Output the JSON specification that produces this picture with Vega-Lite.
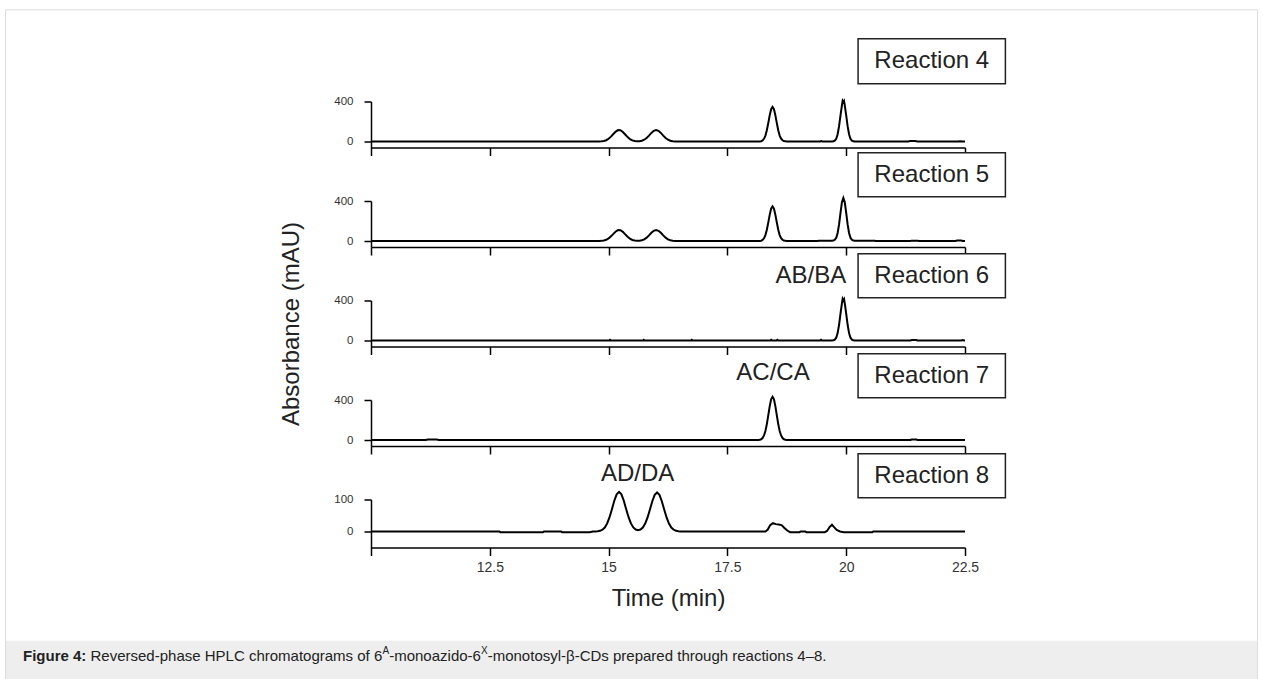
{
  "$schema": "https://vega.github.io/schema/vega-lite/v6.json",
  "background": "white",
  "padding": {"left": 5, "top": 8.5, "right": 5, "bottom": 0},
  "bounds": "flush",
  "spacing": 53.5,
  "config": {
    "view": {"stroke": null},
    "axis": {"grid": false},
    "font": "Liberation Sans"
  },
  "datasets": {
    "p4": [
      {"t": 10, "a": 2}, {"t": 14.75, "a": 2}, {"t": 14.8, "a": 2.6}, {"t": 14.85, "a": 4}, {"t": 14.9, "a": 7.5}, {"t": 14.95, "a": 15.3},
      {"t": 15.0, "a": 29.5}, {"t": 15.05, "a": 50.9}, {"t": 15.1, "a": 77.1}, {"t": 15.15, "a": 101.5}, {"t": 15.2, "a": 115.6},
      {"t": 15.25, "a": 114}, {"t": 15.3, "a": 97.2}, {"t": 15.35, "a": 71.8}, {"t": 15.4, "a": 46.1}, {"t": 15.45, "a": 26},
      {"t": 15.5, "a": 13.3}, {"t": 15.55, "a": 6.9}, {"t": 15.6, "a": 4.6}, {"t": 15.65, "a": 5.6}, {"t": 15.7, "a": 10},
      {"t": 15.75, "a": 20.1}, {"t": 15.8, "a": 37.2}, {"t": 15.85, "a": 61.1}, {"t": 15.9, "a": 87.5}, {"t": 15.95, "a": 108.8},
      {"t": 16.0, "a": 117}, {"t": 16.05, "a": 108.8}, {"t": 16.1, "a": 87.5}, {"t": 16.15, "a": 61.1}, {"t": 16.2, "a": 37.2},
      {"t": 16.25, "a": 20.1}, {"t": 16.3, "a": 10}, {"t": 16.35, "a": 5.1}, {"t": 16.4, "a": 3}, {"t": 16.45, "a": 2.3}, {"t": 16.5, "a": 2},
      {"t": 18.15, "a": 2}, {"t": 18.18, "a": 3.2}, {"t": 18.21, "a": 5.8}, {"t": 18.24, "a": 13}, {"t": 18.27, "a": 29.5},
      {"t": 18.3, "a": 61.5}, {"t": 18.33, "a": 114}, {"t": 18.36, "a": 185}, {"t": 18.39, "a": 262}, {"t": 18.42, "a": 323.5},
      {"t": 18.45, "a": 347}, {"t": 18.48, "a": 323.5}, {"t": 18.51, "a": 262}, {"t": 18.54, "a": 185}, {"t": 18.57, "a": 114},
      {"t": 18.6, "a": 61.5}, {"t": 18.63, "a": 31}, {"t": 18.66, "a": 15}, {"t": 18.69, "a": 7}, {"t": 18.72, "a": 4}, {"t": 18.75, "a": 2.5},
      {"t": 18.8, "a": 2}, {"t": 19.45, "a": 2}, {"t": 19.48, "a": 7}, {"t": 19.5, "a": 2},
      {"t": 19.7, "a": 2.4}, {"t": 19.73, "a": 4.2}, {"t": 19.76, "a": 10.7}, {"t": 19.79, "a": 29.9}, {"t": 19.82, "a": 74.8},
      {"t": 19.85, "a": 155}, {"t": 19.88, "a": 263}, {"t": 19.91, "a": 362}, {"t": 19.925, "a": 407}, {"t": 19.94, "a": 394},
      {"t": 19.955, "a": 405}, {"t": 19.97, "a": 362}, {"t": 20.0, "a": 263}, {"t": 20.03, "a": 155}, {"t": 20.06, "a": 74.8},
      {"t": 20.09, "a": 29.9}, {"t": 20.12, "a": 10.7}, {"t": 20.15, "a": 4.2}, {"t": 20.18, "a": 2.4}, {"t": 20.22, "a": 2},
      {"t": 21.3, "a": 2}, {"t": 21.35, "a": 7}, {"t": 21.45, "a": 7}, {"t": 21.5, "a": 2},
      {"t": 22.35, "a": 2}, {"t": 22.4, "a": 6}, {"t": 22.45, "a": 2}, {"t": 22.5, "a": 2}
    ],
    "p5": [
      {"t": 10, "a": 2}, {"t": 14.75, "a": 2}, {"t": 14.8, "a": 2.6}, {"t": 14.85, "a": 3.9}, {"t": 14.9, "a": 7.3}, {"t": 14.95, "a": 14.7},
      {"t": 15.0, "a": 28.3}, {"t": 15.05, "a": 48.8}, {"t": 15.1, "a": 73.8}, {"t": 15.15, "a": 97.2}, {"t": 15.2, "a": 110.7},
      {"t": 15.25, "a": 109.1}, {"t": 15.3, "a": 93.1}, {"t": 15.35, "a": 68.8}, {"t": 15.4, "a": 44.2}, {"t": 15.45, "a": 25},
      {"t": 15.5, "a": 12.8}, {"t": 15.55, "a": 6.7}, {"t": 15.6, "a": 4.5}, {"t": 15.65, "a": 5.4}, {"t": 15.7, "a": 9.7},
      {"t": 15.75, "a": 19.3}, {"t": 15.8, "a": 35.7}, {"t": 15.85, "a": 58.5}, {"t": 15.9, "a": 83.8}, {"t": 15.95, "a": 104.2},
      {"t": 16.0, "a": 112}, {"t": 16.05, "a": 104.2}, {"t": 16.1, "a": 83.8}, {"t": 16.15, "a": 58.5}, {"t": 16.2, "a": 35.7},
      {"t": 16.25, "a": 19.3}, {"t": 16.3, "a": 9.7}, {"t": 16.35, "a": 5}, {"t": 16.4, "a": 3}, {"t": 16.45, "a": 2.3}, {"t": 16.5, "a": 2},
      {"t": 18.15, "a": 2}, {"t": 18.18, "a": 3.2}, {"t": 18.21, "a": 5.8}, {"t": 18.24, "a": 13}, {"t": 18.27, "a": 29.5},
      {"t": 18.3, "a": 61.5}, {"t": 18.33, "a": 114}, {"t": 18.36, "a": 185}, {"t": 18.39, "a": 262}, {"t": 18.42, "a": 323.5},
      {"t": 18.45, "a": 347}, {"t": 18.48, "a": 323.5}, {"t": 18.51, "a": 262}, {"t": 18.54, "a": 185}, {"t": 18.57, "a": 114},
      {"t": 18.6, "a": 61.5}, {"t": 18.63, "a": 31}, {"t": 18.66, "a": 15}, {"t": 18.69, "a": 7}, {"t": 18.72, "a": 4}, {"t": 18.75, "a": 2.5},
      {"t": 18.8, "a": 2}, {"t": 19.4, "a": 2}, {"t": 19.42, "a": 5},
      {"t": 19.7, "a": 5.4}, {"t": 19.73, "a": 7.3}, {"t": 19.76, "a": 14.2}, {"t": 19.79, "a": 34.6}, {"t": 19.82, "a": 82.4},
      {"t": 19.85, "a": 167.6}, {"t": 19.88, "a": 282.3}, {"t": 19.91, "a": 387.5}, {"t": 19.94, "a": 430},
      {"t": 19.97, "a": 387.5}, {"t": 20.0, "a": 282.3}, {"t": 20.03, "a": 167.6}, {"t": 20.06, "a": 82.4}, {"t": 20.09, "a": 34.6},
      {"t": 20.12, "a": 14.2}, {"t": 20.15, "a": 7.3}, {"t": 20.18, "a": 5.4}, {"t": 20.6, "a": 5}, {"t": 20.62, "a": 2},
      {"t": 21.35, "a": 2}, {"t": 21.38, "a": 6}, {"t": 21.5, "a": 6}, {"t": 21.53, "a": 2},
      {"t": 22.3, "a": 2}, {"t": 22.33, "a": 7}, {"t": 22.42, "a": 7}, {"t": 22.45, "a": 2}, {"t": 22.5, "a": 2}
    ],
    "p6": [
      {"t": 10, "a": 2}, {"t": 15.01, "a": 2}, {"t": 15.03, "a": 10}, {"t": 15.05, "a": 2},
      {"t": 15.72, "a": 2}, {"t": 15.74, "a": 9}, {"t": 15.76, "a": 2},
      {"t": 16.73, "a": 2}, {"t": 16.75, "a": 10}, {"t": 16.77, "a": 2},
      {"t": 18.4, "a": 2}, {"t": 18.42, "a": 9}, {"t": 18.44, "a": 2},
      {"t": 18.53, "a": 2}, {"t": 18.55, "a": 9}, {"t": 18.57, "a": 2},
      {"t": 19.45, "a": 2}, {"t": 19.47, "a": 10}, {"t": 19.49, "a": 2},
      {"t": 19.7, "a": 2.4}, {"t": 19.73, "a": 4.3}, {"t": 19.76, "a": 10.9}, {"t": 19.79, "a": 30.6}, {"t": 19.82, "a": 76.6},
      {"t": 19.85, "a": 159}, {"t": 19.88, "a": 270}, {"t": 19.91, "a": 371}, {"t": 19.925, "a": 417}, {"t": 19.94, "a": 402},
      {"t": 19.955, "a": 414}, {"t": 19.97, "a": 371}, {"t": 20.0, "a": 270}, {"t": 20.03, "a": 159}, {"t": 20.06, "a": 76.6},
      {"t": 20.09, "a": 30.6}, {"t": 20.12, "a": 10.9}, {"t": 20.15, "a": 4.3}, {"t": 20.18, "a": 2.4}, {"t": 20.22, "a": 2},
      {"t": 21.35, "a": 2}, {"t": 21.38, "a": 7}, {"t": 21.48, "a": 7}, {"t": 21.5, "a": 2},
      {"t": 22.42, "a": 2}, {"t": 22.45, "a": 7}, {"t": 22.48, "a": 2}, {"t": 22.5, "a": 2}
    ],
    "p7": [
      {"t": 10, "a": 2}, {"t": 11.15, "a": 2}, {"t": 11.2, "a": 7}, {"t": 11.38, "a": 7}, {"t": 11.43, "a": 2},
      {"t": 18.15, "a": 2}, {"t": 18.18, "a": 4.8}, {"t": 18.21, "a": 10}, {"t": 18.24, "a": 22.3}, {"t": 18.27, "a": 47.7},
      {"t": 18.3, "a": 92.6}, {"t": 18.33, "a": 160.7}, {"t": 18.36, "a": 247.5}, {"t": 18.39, "a": 337.3}, {"t": 18.42, "a": 406},
      {"t": 18.45, "a": 432}, {"t": 18.48, "a": 406}, {"t": 18.51, "a": 337.3}, {"t": 18.54, "a": 247.5}, {"t": 18.57, "a": 160.7},
      {"t": 18.6, "a": 92.6}, {"t": 18.63, "a": 47.7}, {"t": 18.66, "a": 22.3}, {"t": 18.69, "a": 10}, {"t": 18.72, "a": 4.8},
      {"t": 18.75, "a": 2.8}, {"t": 18.8, "a": 2},
      {"t": 21.35, "a": 2}, {"t": 21.38, "a": 7}, {"t": 21.48, "a": 7}, {"t": 21.5, "a": 2}, {"t": 22.5, "a": 2}
    ],
    "p8": [
      {"t": 10, "a": 0}, {"t": 12.7, "a": 0}, {"t": 12.72, "a": -2}, {"t": 13.62, "a": -2}, {"t": 13.64, "a": 0},
      {"t": 14.0, "a": 0}, {"t": 14.02, "a": -2}, {"t": 14.6, "a": -2}, {"t": 14.67, "a": 0},
      {"t": 14.72, "a": 0.2}, {"t": 14.77, "a": 0.7}, {"t": 14.82, "a": 2.1}, {"t": 14.87, "a": 5.4}, {"t": 14.92, "a": 12.5},
      {"t": 14.97, "a": 25.2}, {"t": 15.02, "a": 44.6}, {"t": 15.07, "a": 69.8}, {"t": 15.12, "a": 96.1}, {"t": 15.17, "a": 116.3},
      {"t": 15.22, "a": 124}, {"t": 15.27, "a": 116.3}, {"t": 15.32, "a": 96.1}, {"t": 15.37, "a": 69.8}, {"t": 15.42, "a": 44.6},
      {"t": 15.47, "a": 25.2}, {"t": 15.52, "a": 12.7}, {"t": 15.57, "a": 6.1}, {"t": 15.62, "a": 4.2}, {"t": 15.67, "a": 6.1},
      {"t": 15.72, "a": 12.5}, {"t": 15.77, "a": 24.8}, {"t": 15.82, "a": 43.9}, {"t": 15.87, "a": 68.7}, {"t": 15.92, "a": 94.6},
      {"t": 15.97, "a": 114.4}, {"t": 16.02, "a": 122}, {"t": 16.07, "a": 114.4}, {"t": 16.12, "a": 94.6}, {"t": 16.17, "a": 68.7},
      {"t": 16.22, "a": 43.9}, {"t": 16.27, "a": 24.8}, {"t": 16.32, "a": 12.3}, {"t": 16.37, "a": 5.4}, {"t": 16.42, "a": 2.1},
      {"t": 16.47, "a": 0.7}, {"t": 16.52, "a": 0.2}, {"t": 16.57, "a": 0},
      {"t": 18.3, "a": 0}, {"t": 18.35, "a": 6}, {"t": 18.4, "a": 20}, {"t": 18.46, "a": 26}, {"t": 18.52, "a": 23},
      {"t": 18.58, "a": 22}, {"t": 18.64, "a": 20}, {"t": 18.7, "a": 11}, {"t": 18.76, "a": 3}, {"t": 18.82, "a": -2},
      {"t": 19.02, "a": -2}, {"t": 19.04, "a": 0}, {"t": 19.14, "a": 0}, {"t": 19.16, "a": -2}, {"t": 19.55, "a": -2},
      {"t": 19.6, "a": 2}, {"t": 19.65, "a": 14}, {"t": 19.7, "a": 21}, {"t": 19.75, "a": 13}, {"t": 19.8, "a": 5},
      {"t": 19.87, "a": 0}, {"t": 19.95, "a": -2}, {"t": 20.55, "a": -2}, {"t": 20.57, "a": 0}, {"t": 22.5, "a": 0}
    ]
  },
  "vconcat": [
    {
      "width": 594, "height": 46,
      "layer": [
        {
          "data": {"values": [{"s": "figure frame"}]},
          "mark": {"type": "rect", "fill": null, "stroke": "#dddddd", "strokeWidth": 1, "x": -365.5, "x2": 886.5, "y": -91.7, "y2": 578.3},
          "encoding": {}
        },
        {
          "data": {"name": "p4"},
          "mark": {"type": "line", "color": "black", "strokeWidth": 2},
          "encoding": {
            "x": {"field": "t", "type": "quantitative", "scale": {"domain": [10, 22.5], "nice": false, "zero": false},
              "axis": {"values": [10, 12.5, 15, 17.5, 20, 22.5], "labels": false, "title": null, "tickSize": 8, "tickWidth": 1.5, "tickColor": "black", "domainColor": "black", "domainWidth": 1.5}},
            "y": {"field": "a", "type": "quantitative", "scale": {"domain": [-57, 400], "nice": false, "zero": false},
              "axis": {"values": [0, 100, 200, 300, 400], "labelExpr": "datum.value % 200 === 0 ? datum.label : ''", "title": null, "tickSize": 7, "tickWidth": 1.5, "tickColor": "black", "domainColor": "black", "domainWidth": 1.5, "labelFont": "Liberation Sans", "labelFontSize": 11.5, "labelColor": "#333", "labelPadding": 11}}
          }
        },
        {
          "data": {"values": [{"label": "Reaction 4"}]},
          "mark": {"type": "rect", "fill": "white", "stroke": "#222", "strokeWidth": 1.5},
          "encoding": {
            "x": {"datum": 20.25, "type": "quantitative", "scale": {"domain": [10, 22.5], "nice": false, "zero": false}},
            "x2": {"datum": 23.35},
            "y": {"datum": 1023, "type": "quantitative", "scale": {"domain": [-57, 400], "nice": false, "zero": false}},
            "y2": {"datum": 576}
          }
        },
        {
          "data": {"values": [{"label": "Reaction 4"}]},
          "mark": {"type": "text", "font": "Liberation Sans", "fontSize": 24, "color": "#222", "align": "center", "baseline": "middle"},
          "encoding": {
            "x": {"datum": 21.8, "type": "quantitative", "scale": {"domain": [10, 22.5], "nice": false, "zero": false}},
            "y": {"datum": 799, "type": "quantitative", "scale": {"domain": [-57, 400], "nice": false, "zero": false}},
            "text": {"field": "label"}
          }
        }
      ]
    },
    {
      "width": 594, "height": 46,
      "layer": [
        {
          "data": {"name": "p5"},
          "mark": {"type": "line", "color": "black", "strokeWidth": 2},
          "encoding": {
            "x": {"field": "t", "type": "quantitative", "scale": {"domain": [10, 22.5], "nice": false, "zero": false},
              "axis": {"values": [10, 12.5, 15, 17.5, 20, 22.5], "labels": false, "title": null, "tickSize": 8, "tickWidth": 1.5, "tickColor": "black", "domainColor": "black", "domainWidth": 1.5}},
            "y": {"field": "a", "type": "quantitative", "scale": {"domain": [-57, 400], "nice": false, "zero": false},
              "axis": {"values": [0, 100, 200, 300, 400], "labelExpr": "datum.value % 200 === 0 ? datum.label : ''", "title": null, "tickSize": 7, "tickWidth": 1.5, "tickColor": "black", "domainColor": "black", "domainWidth": 1.5, "labelFont": "Liberation Sans", "labelFontSize": 11.5, "labelColor": "#333", "labelPadding": 11}}
          }
        },
        {
          "data": {"values": [{"label": "Reaction 5"}]},
          "mark": {"type": "rect", "fill": "white", "stroke": "#222", "strokeWidth": 1.5},
          "encoding": {
            "x": {"datum": 20.25, "type": "quantitative", "scale": {"domain": [10, 22.5], "nice": false, "zero": false}},
            "x2": {"datum": 23.35},
            "y": {"datum": 879, "type": "quantitative", "scale": {"domain": [-57, 400], "nice": false, "zero": false}},
            "y2": {"datum": 442}
          }
        },
        {
          "data": {"values": [{"label": "Reaction 5"}]},
          "mark": {"type": "text", "font": "Liberation Sans", "fontSize": 24, "color": "#222", "align": "center", "baseline": "middle"},
          "encoding": {
            "x": {"datum": 21.8, "type": "quantitative", "scale": {"domain": [10, 22.5], "nice": false, "zero": false}},
            "y": {"datum": 660, "type": "quantitative", "scale": {"domain": [-57, 400], "nice": false, "zero": false}},
            "text": {"field": "label"}
          }
        }
      ]
    },
    {
      "width": 594, "height": 46,
      "layer": [
        {
          "data": {"name": "p6"},
          "mark": {"type": "line", "color": "black", "strokeWidth": 2},
          "encoding": {
            "x": {"field": "t", "type": "quantitative", "scale": {"domain": [10, 22.5], "nice": false, "zero": false},
              "axis": {"values": [10, 12.5, 15, 17.5, 20, 22.5], "labels": false, "title": null, "tickSize": 8, "tickWidth": 1.5, "tickColor": "black", "domainColor": "black", "domainWidth": 1.5}},
            "y": {"field": "a", "type": "quantitative", "scale": {"domain": [-57, 400], "nice": false, "zero": false},
              "axis": {"values": [0, 100, 200, 300, 400], "labelExpr": "datum.value % 200 === 0 ? datum.label : ''", "title": "Absorbance (mAU)", "titleFont": "Liberation Sans", "titleFontSize": 24, "titleFontWeight": "normal", "titleColor": "#222", "titlePadding": 30, "tickSize": 7, "tickWidth": 1.5, "tickColor": "black", "domainColor": "black", "domainWidth": 1.5, "labelFont": "Liberation Sans", "labelFontSize": 11.5, "labelColor": "#333", "labelPadding": 11}}
          }
        },
        {
          "data": {"values": [{"label": "Reaction 6"}]},
          "mark": {"type": "rect", "fill": "white", "stroke": "#222", "strokeWidth": 1.5},
          "encoding": {
            "x": {"datum": 20.25, "type": "quantitative", "scale": {"domain": [10, 22.5], "nice": false, "zero": false}},
            "x2": {"datum": 23.35},
            "y": {"datum": 864, "type": "quantitative", "scale": {"domain": [-57, 400], "nice": false, "zero": false}},
            "y2": {"datum": 427}
          }
        },
        {
          "data": {"values": [{"label": "Reaction 6"}]},
          "mark": {"type": "text", "font": "Liberation Sans", "fontSize": 24, "color": "#222", "align": "center", "baseline": "middle"},
          "encoding": {
            "x": {"datum": 21.8, "type": "quantitative", "scale": {"domain": [10, 22.5], "nice": false, "zero": false}},
            "y": {"datum": 645, "type": "quantitative", "scale": {"domain": [-57, 400], "nice": false, "zero": false}},
            "text": {"field": "label"}
          }
        },
        {
          "data": {"values": [{"label": "AB/BA"}]},
          "mark": {"type": "text", "font": "Liberation Sans", "fontSize": 24, "color": "#222", "align": "right", "baseline": "middle"},
          "encoding": {
            "x": {"datum": 20.0, "type": "quantitative", "scale": {"domain": [10, 22.5], "nice": false, "zero": false}},
            "y": {"datum": 645, "type": "quantitative", "scale": {"domain": [-57, 400], "nice": false, "zero": false}},
            "text": {"field": "label"}
          }
        }
      ]
    },
    {
      "width": 594, "height": 46,
      "layer": [
        {
          "data": {"name": "p7"},
          "mark": {"type": "line", "color": "black", "strokeWidth": 2},
          "encoding": {
            "x": {"field": "t", "type": "quantitative", "scale": {"domain": [10, 22.5], "nice": false, "zero": false},
              "axis": {"values": [10, 12.5, 15, 17.5, 20, 22.5], "labels": false, "title": null, "tickSize": 8, "tickWidth": 1.5, "tickColor": "black", "domainColor": "black", "domainWidth": 1.5}},
            "y": {"field": "a", "type": "quantitative", "scale": {"domain": [-57, 400], "nice": false, "zero": false},
              "axis": {"values": [0, 100, 200, 300, 400], "labelExpr": "datum.value % 200 === 0 ? datum.label : ''", "title": null, "tickSize": 7, "tickWidth": 1.5, "tickColor": "black", "domainColor": "black", "domainWidth": 1.5, "labelFont": "Liberation Sans", "labelFontSize": 11.5, "labelColor": "#333", "labelPadding": 11}}
          }
        },
        {
          "data": {"values": [{"label": "Reaction 7"}]},
          "mark": {"type": "rect", "fill": "white", "stroke": "#222", "strokeWidth": 1.5},
          "encoding": {
            "x": {"datum": 20.25, "type": "quantitative", "scale": {"domain": [10, 22.5], "nice": false, "zero": false}},
            "x2": {"datum": 23.35},
            "y": {"datum": 859, "type": "quantitative", "scale": {"domain": [-57, 400], "nice": false, "zero": false}},
            "y2": {"datum": 422}
          }
        },
        {
          "data": {"values": [{"label": "Reaction 7"}]},
          "mark": {"type": "text", "font": "Liberation Sans", "fontSize": 24, "color": "#222", "align": "center", "baseline": "middle"},
          "encoding": {
            "x": {"datum": 21.8, "type": "quantitative", "scale": {"domain": [10, 22.5], "nice": false, "zero": false}},
            "y": {"datum": 640, "type": "quantitative", "scale": {"domain": [-57, 400], "nice": false, "zero": false}},
            "text": {"field": "label"}
          }
        },
        {
          "data": {"values": [{"label": "AC/CA"}]},
          "mark": {"type": "text", "font": "Liberation Sans", "fontSize": 24, "color": "#222", "align": "center", "baseline": "middle"},
          "encoding": {
            "x": {"datum": 18.46, "type": "quantitative", "scale": {"domain": [10, 22.5], "nice": false, "zero": false}},
            "y": {"datum": 670, "type": "quantitative", "scale": {"domain": [-57, 400], "nice": false, "zero": false}},
            "text": {"field": "label"}
          }
        }
      ]
    },
    {
      "width": 594, "height": 48,
      "layer": [
        {
          "data": {"name": "p8"},
          "mark": {"type": "line", "color": "black", "strokeWidth": 2},
          "encoding": {
            "x": {"field": "t", "type": "quantitative", "scale": {"domain": [10, 22.5], "nice": false, "zero": false},
              "axis": {"values": [10, 12.5, 15, 17.5, 20, 22.5], "labelExpr": "datum.value === 10 ? '' : format(datum.value, '~f')", "labelFlush": false, "labelFont": "Liberation Sans", "labelFontSize": 14, "labelColor": "#333", "labelPadding": 5, "labelDx": 4, "title": "Time (min)", "titleFont": "Liberation Sans", "titleFontSize": 24, "titleFontWeight": "normal", "titleColor": "#222", "titlePadding": 12, "tickSize": 8, "tickWidth": 1.5, "tickColor": "black", "domainColor": "black", "domainWidth": 1.5}},
            "y": {"field": "a", "type": "quantitative", "scale": {"domain": [-50, 100], "nice": false, "zero": false},
              "axis": {"values": [0, 50, 100], "labelExpr": "datum.value % 100 === 0 ? datum.label : ''", "title": null, "tickSize": 7, "tickWidth": 1.5, "tickColor": "black", "domainColor": "black", "domainWidth": 1.5, "labelFont": "Liberation Sans", "labelFontSize": 11.5, "labelColor": "#333", "labelPadding": 11}}
          }
        },
        {
          "data": {"values": [{"label": "Reaction 8"}]},
          "mark": {"type": "rect", "fill": "white", "stroke": "#222", "strokeWidth": 1.5},
          "encoding": {
            "x": {"datum": 20.25, "type": "quantitative", "scale": {"domain": [10, 22.5], "nice": false, "zero": false}},
            "x2": {"datum": 23.35},
            "y": {"datum": 242.8, "type": "quantitative", "scale": {"domain": [-50, 100], "nice": false, "zero": false}},
            "y2": {"datum": 105.3}
          }
        },
        {
          "data": {"values": [{"label": "Reaction 8"}]},
          "mark": {"type": "text", "font": "Liberation Sans", "fontSize": 24, "color": "#222", "align": "center", "baseline": "middle"},
          "encoding": {
            "x": {"datum": 21.8, "type": "quantitative", "scale": {"domain": [10, 22.5], "nice": false, "zero": false}},
            "y": {"datum": 174, "type": "quantitative", "scale": {"domain": [-50, 100], "nice": false, "zero": false}},
            "text": {"field": "label"}
          }
        },
        {
          "data": {"values": [{"label": "AD/DA"}]},
          "mark": {"type": "text", "font": "Liberation Sans", "fontSize": 24, "color": "#222", "align": "center", "baseline": "middle"},
          "encoding": {
            "x": {"datum": 15.61, "type": "quantitative", "scale": {"domain": [10, 22.5], "nice": false, "zero": false}},
            "y": {"datum": 180.3, "type": "quantitative", "scale": {"domain": [-50, 100], "nice": false, "zero": false}},
            "text": {"field": "label"}
          }
        },
        {"data": {"values": [{"s": "caption band"}]}, "mark": {"type": "rect", "fill": "#eeeeee", "x": -365, "x2": 886, "y": 141.3, "y2": 180.3}, "encoding": {}},
        {"data": {"values": [{"s": "Figure 4:"}]}, "mark": {"type": "text", "align": "left", "baseline": "middle", "font": "Liberation Sans", "fontSize": 15, "fontWeight": "bold", "color": "#222", "x": -348, "y": 156.3}, "encoding": {"text": {"field": "s"}}},
        {"data": {"values": [{"s": "Reversed-phase HPLC chromatograms of 6"}]}, "mark": {"type": "text", "align": "left", "baseline": "middle", "font": "Liberation Sans", "fontSize": 15, "color": "#222", "x": -348, "y": 156.3, "dx": 67.5}, "encoding": {"text": {"field": "s"}}},
        {"data": {"values": [{"s": "A"}]}, "mark": {"type": "text", "align": "left", "baseline": "middle", "font": "Liberation Sans", "fontSize": 10, "color": "#222", "x": -348, "y": 156.3, "dx": 359.5, "dy": -5}, "encoding": {"text": {"field": "s"}}},
        {"data": {"values": [{"s": "-monoazido-6"}]}, "mark": {"type": "text", "align": "left", "baseline": "middle", "font": "Liberation Sans", "fontSize": 15, "color": "#222", "x": -348, "y": 156.3, "dx": 366.2}, "encoding": {"text": {"field": "s"}}},
        {"data": {"values": [{"s": "X"}]}, "mark": {"type": "text", "align": "left", "baseline": "middle", "font": "Liberation Sans", "fontSize": 10, "color": "#222", "x": -348, "y": 156.3, "dx": 458, "dy": -5}, "encoding": {"text": {"field": "s"}}},
        {"data": {"values": [{"s": "-monotosyl-β-CDs prepared through reactions 4–8."}]}, "mark": {"type": "text", "align": "left", "baseline": "middle", "font": "Liberation Sans", "fontSize": 15, "color": "#222", "x": -348, "y": 156.3, "dx": 464.7}, "encoding": {"text": {"field": "s"}}}
      ]
    }
  ]
}
